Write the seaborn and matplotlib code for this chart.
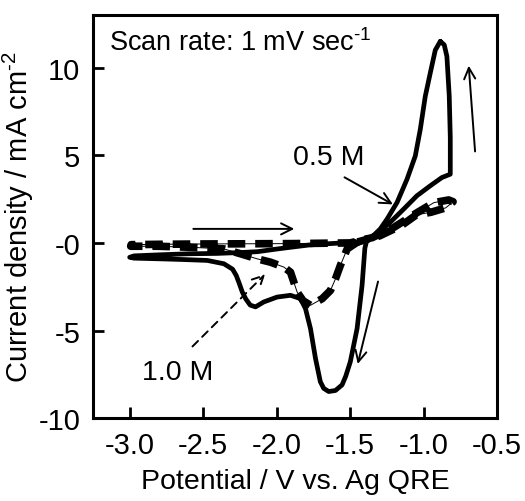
import matplotlib
matplotlib.use("Agg")
import matplotlib.pyplot as plt
import numpy as np
import pandas as pd
import seaborn as sns

# solid CV loop (0.5 M), potential in V, current density in mA cm-2
pot_05 = [-0.887, -0.921, -0.955, -0.989, -1.023, -1.057, -1.113, -1.181, -1.249, -1.295,
          -1.35, -1.39, -1.40, -1.419, -1.453, -1.499, -1.53, -1.555, -1.60, -1.646, -1.68, -1.703,
          -1.736, -1.770, -1.804, -1.838, -1.906, -1.997, -2.088, -2.144, -2.18, -2.21, -2.234,
          -2.255, -2.275, -2.30, -2.359, -2.472, -2.631, -2.79, -2.97, -3.0,
          -2.97, -2.8, -2.6, -2.405, -2.25, -2.13, -2.0, -1.906, -1.78, -1.68, -1.55,
          -1.453, -1.38, -1.317, -1.227, -1.136, -1.046, -0.955, -0.876, -0.819,
          -0.819, -0.826, -0.842, -0.86, -0.887]
cur_05 = [11.5, 11.0, 9.7, 8.37, 6.48, 4.96, 3.64, 2.31, 1.36, 0.80,
          0.35, 0.05, -0.3, -2.42, -4.89, -6.78, -7.6, -8.1, -8.42, -8.48, -8.3, -7.92,
          -6.59, -4.89, -3.75, -3.18, -2.99, -3.09, -3.37, -3.65, -3.55, -3.2, -2.8,
          -2.3, -1.86, -1.5, -1.19, -1.0, -0.95, -0.91, -0.87, -0.82,
          -0.74, -0.68, -0.62, -0.6, -0.55, -0.5, -0.35, -0.25, -0.12, -0.06, 0.0,
          0.06, 0.2, 0.5, 1.18, 1.93, 2.69, 3.26, 3.73, 3.92,
          6.0, 8.37, 10.64, 11.3, 11.5]

# dashed CV loop (1.0 M)
pot_10 = [-1.45, -1.52, -1.567, -1.60, -1.634, -1.69, -1.77, -1.82, -1.861, -1.906,
          -1.951, -2.042, -2.132, -2.246, -2.36, -2.586, -2.81, -2.993,
          -2.99, -2.8, -2.5, -2.2, -1.9, -1.7, -1.5, -1.35, -1.2, -1.05, -0.93,
          -0.83, -0.80, -0.85, -0.95, -1.05, -1.15, -1.3, -1.45]
cur_10 = [0.05, -0.34, -1.29, -2.05, -2.71, -3.18, -3.56, -3.3, -2.8, -1.67,
          -1.38, -1.1, -0.91, -0.62, -0.34, -0.25, -0.19, -0.19,
          -0.1, -0.08, -0.06, -0.05, -0.04, -0.02, 0.0, 0.3, 0.9, 1.7, 2.3,
          2.45, 2.35, 2.0, 1.75, 1.6, 1.0, 0.4, 0.05]

x_ticks = [-3.0, -2.5, -2.0, -1.5, -1.0, -0.5]
y_ticks = [10, 5, 0, -5, -10]
y_ticklabels = ["10", "5", "-0", "-5", "-10"]

df05 = pd.DataFrame({"E": pot_05, "j": cur_05})
df10 = pd.DataFrame({"E": pot_10, "j": cur_10})

sns.set_style("ticks", {"axes.edgecolor": "black", "text.color": "black",
                        "axes.labelcolor": "black", "xtick.color": "black",
                        "ytick.color": "black"})
plt.rcParams["font.family"] = ["Liberation Sans", "DejaVu Sans"]
plt.rcParams["mathtext.fontset"] = "custom"
plt.rcParams["mathtext.rm"] = "Liberation Sans"
plt.rcParams["mathtext.it"] = "Liberation Sans"

fig = plt.figure(figsize=(5.25, 5.02), dpi=100)
ax = fig.add_axes([0.177, 0.165, 0.770, 0.803])

# thin line under the dashes, then the thick dashes
sns.lineplot(data=df10, x="E", y="j", sort=False, estimator=None, ax=ax,
             color="black", linewidth=0.7)
sns.lineplot(data=df10, x="E", y="j", sort=False, estimator=None, ax=ax,
             color="black", linewidth=5.5)
ax.lines[-1].set_dashes([2.3, 1.3])
ax.lines[-1].set_dash_capstyle("butt")
sns.lineplot(data=df05, x="E", y="j", sort=False, estimator=None, ax=ax,
             color="black", linewidth=3.4)

ax.set_xlim(-3.25, -0.5)
ax.set_ylim(-10, 13)
ax.set_xticks(x_ticks)
ax.set_xticklabels([f"{t:.1f}" for t in x_ticks])
ax.set_yticks(y_ticks)
ax.set_yticklabels(y_ticklabels)
ax.tick_params(direction="in", length=8, width=2, labelsize=21)
ax.tick_params(axis="x", pad=9)
ax.tick_params(axis="y", pad=9)
for s in ax.spines.values():
    s.set_linewidth(2.2)
    s.set_visible(True)

ax.set_xlabel("Potential / V vs. Ag QRE", fontsize=20.5, labelpad=7)
ax.set_ylabel(r"Current density / mA cm$^{\text{-2}}$", fontsize=21, labelpad=2)

ax.text(-3.143, 11.0, r"Scan rate: 1 mV sec$^{\text{-1}}$", fontsize=19.5, va="baseline")
ax.text(-1.648, 4.89, "0.5 M", fontsize=20.5, ha="center", va="center")
ax.text(-2.67, -7.39, "1.0 M", fontsize=20.5, ha="center", va="center")

arr = dict(arrowstyle="->", color="black", lw=1.4, mutation_scale=20)
ax.annotate("", xy=(-1.193, 2.12), xytext=(-1.555, 3.82), arrowprops=arr)
ax.annotate("", xy=(-2.065, -1.67), xytext=(-2.586, -6.02),
            arrowprops=dict(arr, linestyle=(0, (4, 3))))
ax.annotate("", xy=(-1.861, 0.8), xytext=(-2.586, 0.8), arrowprops=arr)
ax.annotate("", xy=(-1.453, -7.06), xytext=(-1.306, -2.05), arrowprops=arr)
ax.annotate("", xy=(-0.695, 10.27), xytext=(-0.649, 5.06), arrowprops=arr)

fig.savefig("out.png", dpi=100)
